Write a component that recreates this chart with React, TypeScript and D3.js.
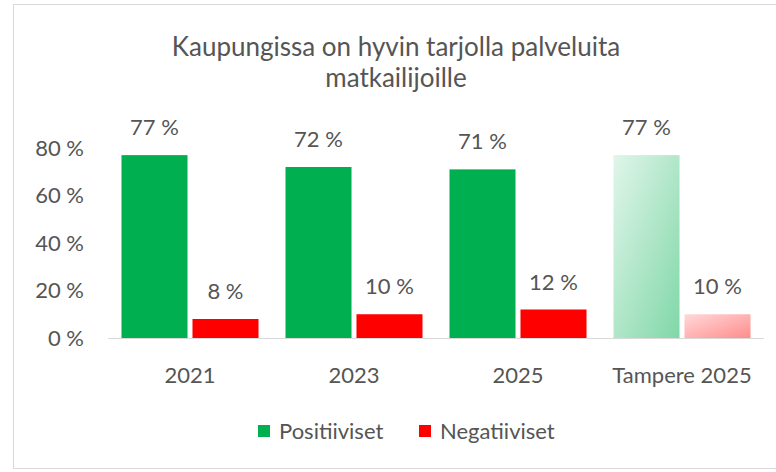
import React, { useEffect, useRef } from 'react'
import * as d3 from 'd3'

const categories = ['2021', '2023', '2025', 'Tampere 2025']
const seriesNames = ['Positiiviset', 'Negatiiviset']
const positive = [77, 72, 71, 77]
const negative = [8, 10, 12, 10]
const yTicks = [0, 20, 40, 60, 80]
const titleLines = ['Kaupungissa on hyvin tarjolla palveluita', 'matkailijoille']

const W = 776
const H = 472
const FONT = 'Lato, "Open Sans", sans-serif'
const TEXT = '#555555'
const GREEN = '#00B050'
const RED = '#FF0000'

const App = () => {
  const ref = useRef<SVGSVGElement>(null)

  useEffect(() => {
    const svg = d3.select(ref.current)
    svg.selectAll('*').remove()

    const defs = svg.append('defs')
    const gGreen = defs
      .append('linearGradient')
      .attr('id', 'gradGreen')
      .attr('x1', '0')
      .attr('y1', '0')
      .attr('x2', '1')
      .attr('y2', '1')
    gGreen.append('stop').attr('offset', '0%').attr('stop-color', GREEN).attr('stop-opacity', 0.12)
    gGreen.append('stop').attr('offset', '100%').attr('stop-color', GREEN).attr('stop-opacity', 0.5)
    const gRed = defs
      .append('linearGradient')
      .attr('id', 'gradRed')
      .attr('x1', '0')
      .attr('y1', '0')
      .attr('x2', '1')
      .attr('y2', '1')
    gRed.append('stop').attr('offset', '0%').attr('stop-color', RED).attr('stop-opacity', 0.15)
    gRed.append('stop').attr('offset', '100%').attr('stop-color', RED).attr('stop-opacity', 0.45)

    // chart frame
    svg
      .append('rect')
      .attr('x', 13.5)
      .attr('y', 4.5)
      .attr('width', 770)
      .attr('height', 464)
      .attr('fill', '#fff')
      .attr('stroke', '#d9d9d9')

    const left = 108
    const right = 764
    const y0 = 338

    const x0 = d3.scaleBand().domain(categories).range([left, right])
    const x1 = d3
      .scaleBand()
      .domain(seriesNames)
      .range([0, x0.bandwidth()])
      .paddingInner(0.07)
      .paddingOuter(0.19)
    const y = d3.scaleLinear().domain([0, 80]).range([y0, y0 - 190])

    // title
    svg
      .append('g')
      .selectAll('text')
      .data(titleLines)
      .enter()
      .append('text')
      .attr('x', 396)
      .attr('y', (d, i) => 56 + i * 31)
      .attr('text-anchor', 'middle')
      .attr('fill', TEXT)
      .style('font-family', FONT)
      .style('font-size', '26px')
      .text((d) => d)

    // y labels
    svg
      .append('g')
      .selectAll('text')
      .data(yTicks)
      .enter()
      .append('text')
      .attr('x', 84)
      .attr('y', (d) => y(d))
      .attr('dy', '0.35em')
      .attr('text-anchor', 'end')
      .attr('fill', TEXT)
      .style('font-family', FONT)
      .style('font-size', '22px')
      .text((d) => `${d} %`)

    const rows = categories.map((c, i) => ({ cat: c, i, vals: [positive[i], negative[i]] }))

    const groups = svg
      .append('g')
      .selectAll('g')
      .data(rows)
      .enter()
      .append('g')
      .attr('transform', (d) => `translate(${x0(d.cat)},0)`)

    const bars = groups
      .selectAll('rect')
      .data((d) => d.vals.map((v, j) => ({ v, j, last: d.i === categories.length - 1 })))
      .enter()

    bars
      .append('rect')
      .attr('x', (d) => x1(seriesNames[d.j]) as number)
      .attr('y', (d) => y(d.v))
      .attr('width', x1.bandwidth())
      .attr('height', (d) => y0 - y(d.v))
      .attr('fill', (d) =>
        d.last ? (d.j === 0 ? 'url(#gradGreen)' : 'url(#gradRed)') : d.j === 0 ? GREEN : RED
      )

    bars
      .append('text')
      .attr('x', (d) => (x1(seriesNames[d.j]) as number) + x1.bandwidth() / 2)
      .attr('y', (d) => y(d.v) - 20)
      .attr('text-anchor', 'middle')
      .attr('fill', TEXT)
      .style('font-family', FONT)
      .style('font-size', '22px')
      .text((d) => `${d.v} %`)

    // baseline
    svg
      .append('line')
      .attr('x1', left)
      .attr('x2', right)
      .attr('y1', y0 + 0.5)
      .attr('y2', y0 + 0.5)
      .attr('stroke', '#d9d9d9')
      .attr('stroke-width', 1)

    // x labels
    svg
      .append('g')
      .selectAll('text')
      .data(categories)
      .enter()
      .append('text')
      .attr('x', (d) => (x0(d) as number) + x0.bandwidth() / 2)
      .attr('y', 383)
      .attr('text-anchor', 'middle')
      .attr('fill', TEXT)
      .style('font-family', FONT)
      .style('font-size', '22px')
      .text((d) => d)

    // legend
    const legendX = [258, 419]
    const legend = svg
      .append('g')
      .selectAll('g')
      .data(seriesNames)
      .enter()
      .append('g')
      .attr('transform', (d, i) => `translate(${legendX[i]},425)`)
    legend
      .append('rect')
      .attr('width', 12)
      .attr('height', 12)
      .attr('fill', (d, i) => (i === 0 ? GREEN : RED))
    legend
      .append('text')
      .attr('x', 21)
      .attr('y', 6)
      .attr('dy', '0.35em')
      .attr('fill', TEXT)
      .style('font-family', FONT)
      .style('font-size', '22px')
      .text((d) => d)
  }, [])

  return (
    <svg
      ref={ref}
      width={W}
      height={H}
      style={{ position: 'absolute', left: 0, top: 0, background: '#fff' }}
    />
  )
}

export default App
